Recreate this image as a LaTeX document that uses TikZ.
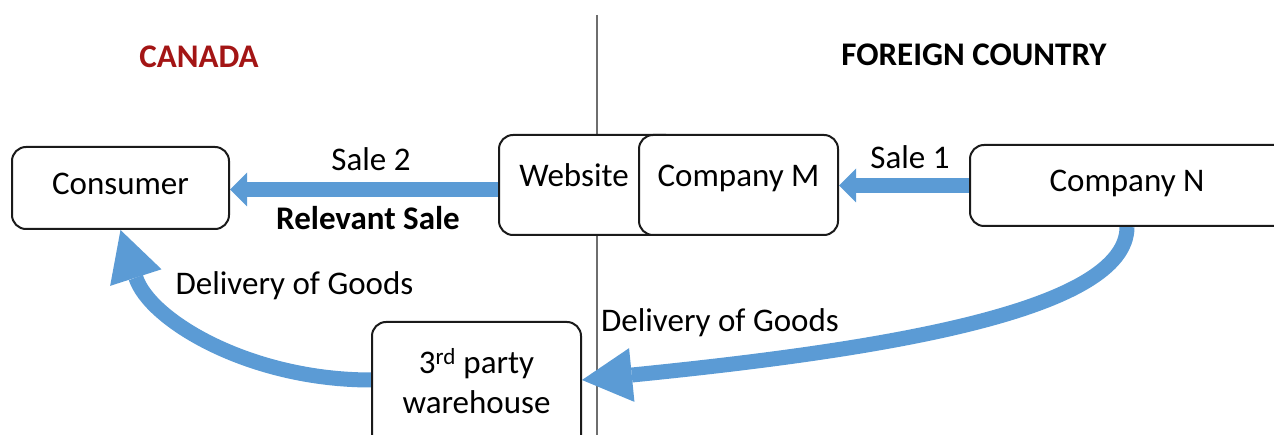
\documentclass[tikz,border=0pt]{standalone}
\usepackage{fontspec}
\setmainfont{Carlito}
\usetikzlibrary{arrows.meta,calc,backgrounds}
\definecolor{arrowblue}{HTML}{5B9BD5}
\definecolor{canadared}{HTML}{A31515}
\definecolor{boxline}{HTML}{1A1A1A}
\definecolor{divider}{HTML}{6E6E6E}
\begin{document}
\begin{tikzpicture}[x=1pt,y=-1pt,
  font=\fontsize{33}{40}\selectfont,
  box/.style={draw=boxline, line width=2pt, rounded corners=14pt, fill=white, inner sep=0pt},
  txt/.style={text height=23pt, text depth=10pt},
  blockarrow/.style={draw=arrowblue, line width=15pt, -{Triangle[width=34pt,length=17pt,line width=0pt]}},
  curvarrow/.style={draw=arrowblue, line width=15pt, -{Triangle[width=54pt,length=50pt,line width=0pt]}},
  lbl/.style={anchor=base, inner sep=0pt},
  boldlbl/.style={lbl, font=\fontsize{33}{40}\selectfont\bfseries},
  ]
\clip (0,0) rectangle (1274,435);
\useasboundingbox (0,0) rectangle (1274,435);

% boxes
\node[box, txt, minimum width=217pt, minimum height=82pt] (cons) at (120.5,188) {Consumer};
\node[box, txt, text depth=19pt, minimum width=181pt, minimum height=100pt] (web) at (589.5,185) {Website\rule{31pt}{0pt}};
\node[box, txt, text depth=19pt, minimum width=199pt, minimum height=100pt] (compM) at (738.5,185) {Company M};
\node[box, txt, minimum width=330pt, minimum height=81pt] (compN) at (1135,185.5) {Company N\rule{16pt}{0pt}};
\node[box, align=center, minimum width=209pt, minimum height=138pt] (wh) at (476.5,391) {3\textsuperscript{rd} party\\warehouse\rule[-20pt]{0pt}{0pt}};

% labels
\node[boldlbl, text=canadared] (ca) at (199,68) {CANADA};
\node[boldlbl] (fc) at (974,66) {FOREIGN COUNTRY};
\node[lbl] (s2) at (371,171) {Sale 2};
\node[boldlbl] (rel) at (368,230) {Relevant Sale};
\node[lbl] (s1) at (910,169) {Sale 1};
\node[lbl] (dl) at (294.5,295) {Delivery of Goods};
\node[lbl] (dr) at (720,332) {Delivery of Goods};

% connection points
\coordinate (top) at (597,15);
\coordinate (bottom) at (597,435);
\coordinate (s2a) at ($(web.west)+(0,4.5)$);
\coordinate (nstart) at ($(compN.south)+(-8,0)$);
\coordinate (whe) at ($(wh.east)+(0,-11)$);
\coordinate (whw) at ($(wh.west)+(0,-11)$);

\begin{scope}[on background layer]
  \draw[divider, line width=1.5pt] (top) -- (bottom);
  \draw[blockarrow] (s2a) -- (s2a -| cons.east);
  \draw[blockarrow] (compN.west) -- (compN.west -| compM.east);
  \draw[curvarrow] (nstart) .. controls +(0,84) and +(300,-30) .. (whe);
  \draw[curvarrow] (whw) .. controls +(-122,0) and +(29,90) .. (cons.south);
\end{scope}
\end{tikzpicture}
\end{document}
